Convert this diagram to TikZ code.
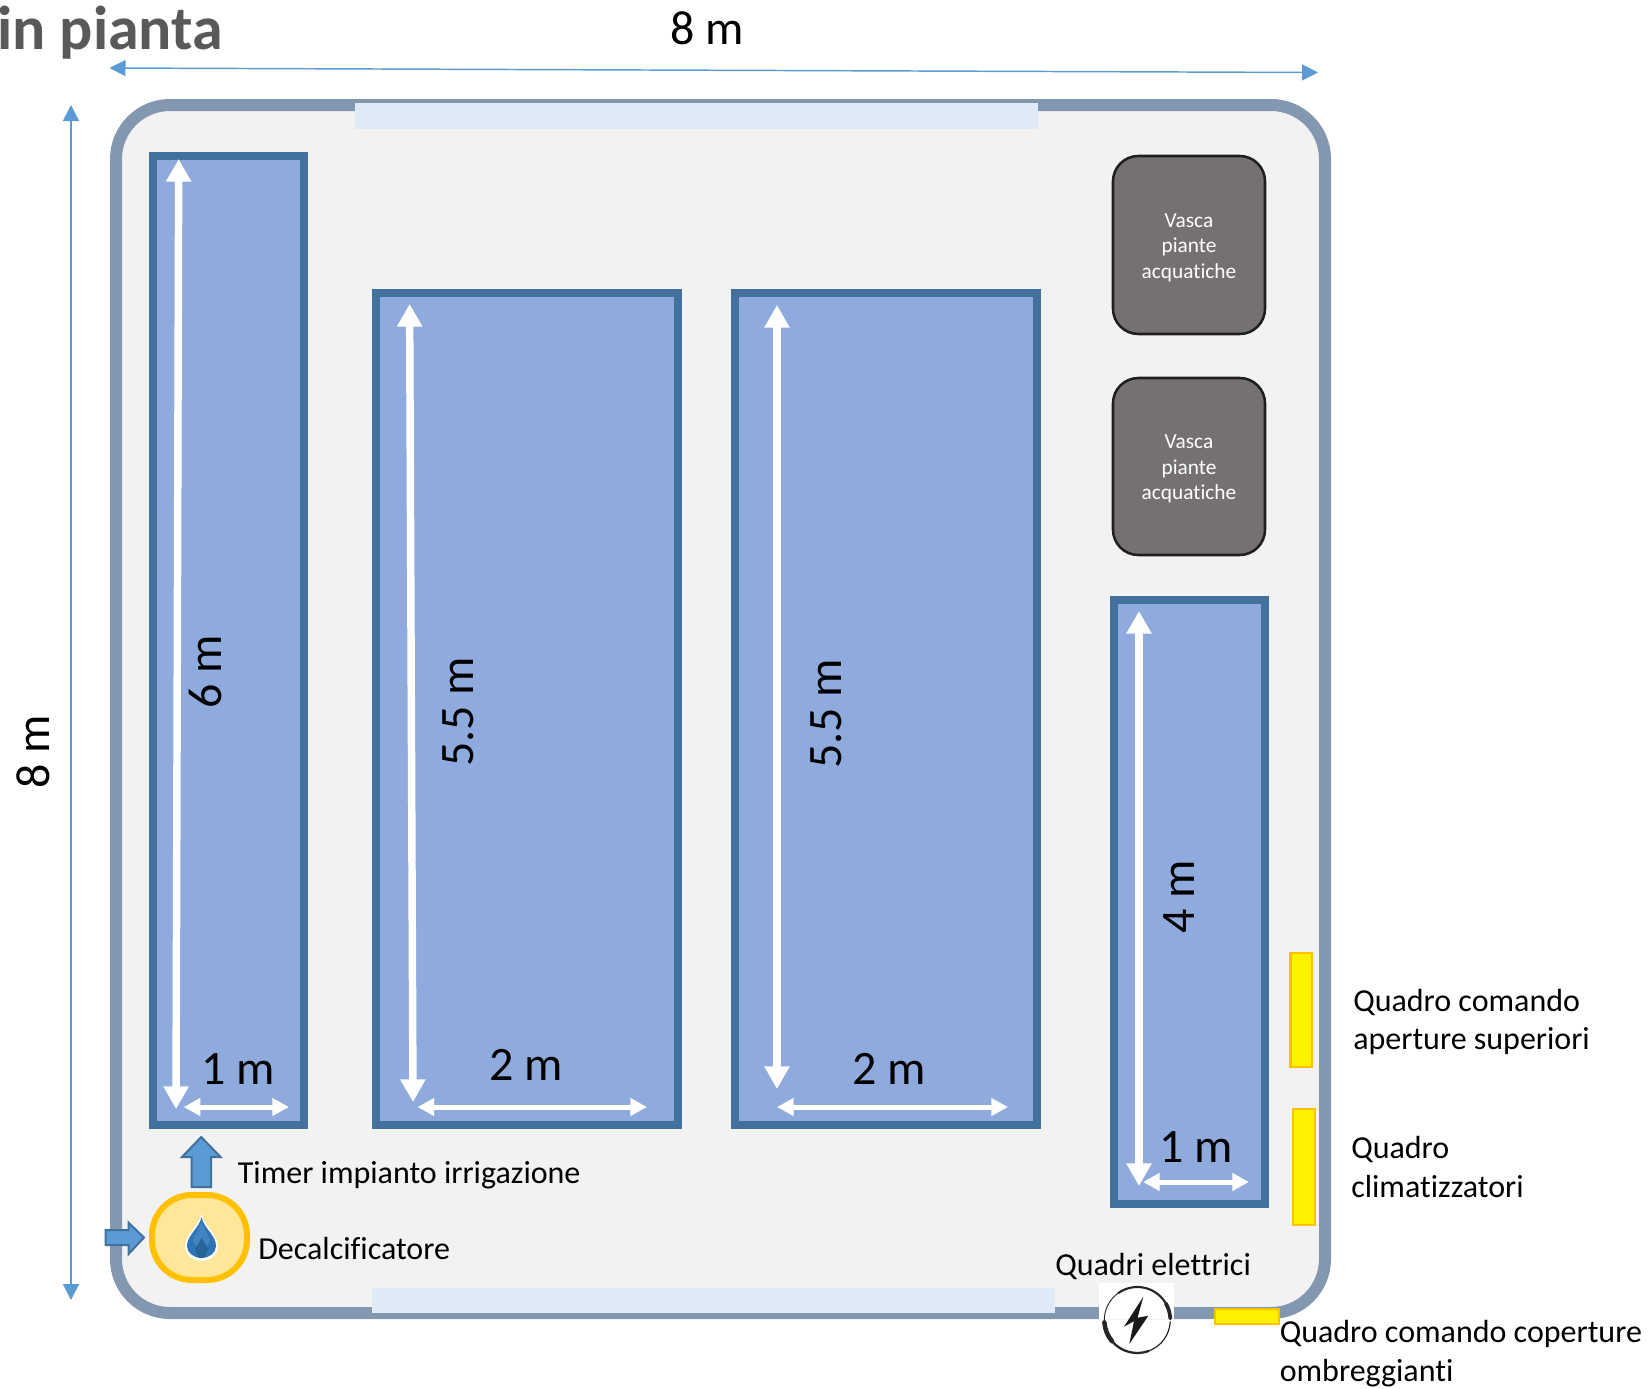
\documentclass[tikz,border=0pt]{standalone}
\usepackage{fontspec}
\setmainfont[Ligatures=NoCommon]{Carlito}
\usetikzlibrary{arrows.meta}
\definecolor{wallc}{HTML}{8497B0}
\definecolor{floorc}{HTML}{F2F2F2}
\definecolor{winc}{HTML}{DEEAF6}
\definecolor{bedline}{HTML}{41719C}
\definecolor{bedfill}{HTML}{8FAADC}
\definecolor{tankc}{HTML}{767171}
\definecolor{dimc}{HTML}{5B9BD5}
\definecolor{amber}{HTML}{FFC000}
\definecolor{softamber}{HTML}{FFE699}
\definecolor{titlec}{HTML}{595959}
\definecolor{dropc}{HTML}{2E75B6}
\definecolor{dropdark}{HTML}{1F5F8B}
\tikzset{
 x=0.75pt,y=-0.75pt,
 wallbox/.style={draw=wallc,fill=floorc,line width=9pt,rounded corners=40.5pt},
 winbox/.style={fill=winc},
 bedbox/.style={draw=bedline,fill=bedfill,line width=6pt},
 tankbox/.style={draw=black!88,fill=tankc,line width=1.9pt,rounded corners=19pt},
 panelbox/.style={draw=amber,fill=yellow,line width=2.2pt},
 softbox/.style={draw=amber,fill=softamber,line width=4.5pt,rounded corners=30pt},
 blockarrow/.style={draw=bedline,fill=dimc,line width=1.5pt},
 dimline/.style={draw=dimc,line width=1.1pt,{Triangle[length=12pt,width=12pt]}-{Triangle[length=12pt,width=12pt]}},
 longarrow/.style={draw=white,line width=5.6pt,{Triangle[length=17pt,width=18pt]}-{Triangle[length=17pt,width=18pt]}},
 shortarrow/.style={draw=white,line width=3.75pt,{Triangle[length=12.5pt,width=12.75pt]}-{Triangle[length=12.5pt,width=12.75pt]}},
 biglabel/.style={inner sep=0,font=\fontsize{36}{40}\selectfont},
 smalllabel/.style={inner sep=0,anchor=west,align=left,font=\fontsize{24}{29}\selectfont},
 tanklabel/.style={inner sep=0,align=center,text=white,font=\fontsize{16}{19.2}\selectfont},
 iconline/.style={draw=black!85,line cap=round},
}
\begin{document}
\begin{tikzpicture}
\useasboundingbox (0,0) rectangle (1650,1389);
% walls
\path[wallbox] (116,105) rectangle (1325,1313);
\path[winbox] (355,103) rectangle (1038,129);
\path[winbox] (372,1288) rectangle (1055,1313);
% beds
\path[bedbox] (152.5,156) rectangle (303.5,1125);
\path[bedbox] (376,293) rectangle (678,1125);
\path[bedbox] (734.5,293) rectangle (1036.5,1125);
\path[bedbox] (1113.5,600) rectangle (1264.5,1204);
% tanks
\path[tankbox] (1113,156) rectangle (1265,334);
\path[tankbox] (1113,378) rectangle (1265,555);
\node[tanklabel] (t1) at (1189,247.5) {Vasca\\piante\\acquatiche};
\node[tanklabel] (t2) at (1189,469) {Vasca\\piante\\acquatiche};
% dimension arrows
\coordinate (dimTL) at (109.5,68); \coordinate (dimTR) at (1318,72.5);
\coordinate (dimLT) at (71,105); \coordinate (dimLB) at (71,1300);
\path[dimline] (dimTL) -- (dimTR);
\path[dimline] (dimLT) -- (dimLB);
% white measures
\path[longarrow] (178.7,159) -- (176,1109);
\path[shortarrow] (183.7,1107) -- (289,1107);
\path[longarrow] (409.6,304) -- (413,1102);
\path[shortarrow] (417.5,1107) -- (647,1107);
\path[longarrow] (777,305) -- (777,1089);
\path[shortarrow] (777,1107) -- (1008,1107);
\path[longarrow] (1139,611) -- (1139,1186);
\path[shortarrow] (1143,1182) -- (1249,1182);
% labels
\node[biglabel,text=titlec,anchor=base west,font=\fontsize{46.5}{50}\selectfont\bfseries] (title) at (-3,49) {in pianta};
\node[biglabel] (top8) at (707,28) {8 m};
\node[biglabel,rotate=90] (left8) at (33.7,752) {8 m};
\node[biglabel,rotate=90] (six) at (205,671.5) {6 m};
\node[biglabel,rotate=90] (fivea) at (458,712) {5.5 m};
\node[biglabel,rotate=90] (fiveb) at (826,714) {5.5 m};
\node[biglabel,rotate=90] (four) at (1178.6,897) {4 m};
\node[biglabel] (onea) at (238,1069) {1 m};
\node[biglabel] (twoa) at (526,1065) {2 m};
\node[biglabel] (twob) at (889.5,1069) {2 m};
\node[biglabel] (oneb) at (1196.5,1147) {1 m};
% panels
\path[panelbox] (1290.5,953) rectangle (1312,1067);
\path[panelbox] (1293,1109) rectangle (1315,1225);
\path[panelbox] (1215,1309) rectangle (1279,1324);
% softener
\path[softbox] (152,1195) rectangle (247,1280);
\path[blockarrow] (191.5,1187) -- (191.5,1157) -- (182,1157) -- (201.2,1137) -- (220.6,1157) -- (211,1157) -- (211,1187) -- cycle;
\path[blockarrow] (105.7,1230) -- (128.6,1230) -- (128.6,1222.7) -- (144,1237.5) -- (128.6,1254) -- (128.6,1245) -- (105.7,1245) -- cycle;
\path[fill=white] (201.5,1214) .. controls (204,1226) and (218,1234) .. (218,1246) .. controls (218,1255) and (210,1261) .. (201.5,1261) .. controls (193,1261) and (185,1255) .. (185,1246) .. controls (185,1234) and (199,1226) .. (201.5,1214) -- cycle;
\path[fill=dropc] (201.5,1217) .. controls (203.5,1228) and (216,1235) .. (216,1246) .. controls (216,1253) and (209,1258) .. (201.5,1258) .. controls (194,1258) and (187,1253) .. (187,1246) .. controls (187,1235) and (199.5,1228) .. (201.5,1217) -- cycle;
\path[fill=dimc,opacity=.4] (201.5,1222) -- (210,1240) -- (201.5,1258) -- (193,1240) -- cycle;
\path[fill=dropdark,opacity=.8] (201.5,1238) -- (208,1249) -- (204,1257.5) -- (199,1257.5) -- (195,1249) -- cycle;
\node[smalllabel] (timer) at (237.6,1175) {Timer impianto irrigazione};
\node[smalllabel] (deca) at (258,1248) {Decalcificatore};
\node[smalllabel] (qe) at (1055,1266) {Quadri elettrici};
\node[smalllabel] (qa) at (1353,1022) {Quadro comando\\aperture superiori};
\node[smalllabel] (qc) at (1351,1167) {Quadro\\climatizzatori};
\node[smalllabel] (qo) at (1279.5,1353.5) {Quadro comando coperture\\ombreggianti};
% electric icon
\path[fill=white] (1099,1283) rectangle (1174,1319);
\coordinate (ic) at (1137.3,1320);
\draw[iconline,line width=0.7pt] ([shift={(ic)}]-180:33) arc[start angle=-180,end angle=-125,radius=33];
\draw[iconline,line width=1.6pt] ([shift={(ic)}]-125:33) arc[start angle=-125,end angle=-2,radius=33];
\draw[iconline,line width=2.8pt] ([shift={(ic)}]-30:33) arc[start angle=-30,end angle=-3,radius=33];
\draw[iconline,line width=0.9pt] ([shift={(ic)}]3:33) arc[start angle=3,end angle=70,radius=33];
\draw[iconline,line width=1.7pt] ([shift={(ic)}]70:33) arc[start angle=70,end angle=140,radius=33];
\draw[iconline,line width=3.4pt] ([shift={(ic)}]140:33) arc[start angle=140,end angle=176,radius=33];
\path[fill=black!90] (1143.3,1296.7) -- (1124,1326.7) -- (1134,1321.2) -- (1129.3,1344) -- (1148.3,1315.7) -- (1137.5,1317.8) -- cycle;
\end{tikzpicture}
\end{document}
